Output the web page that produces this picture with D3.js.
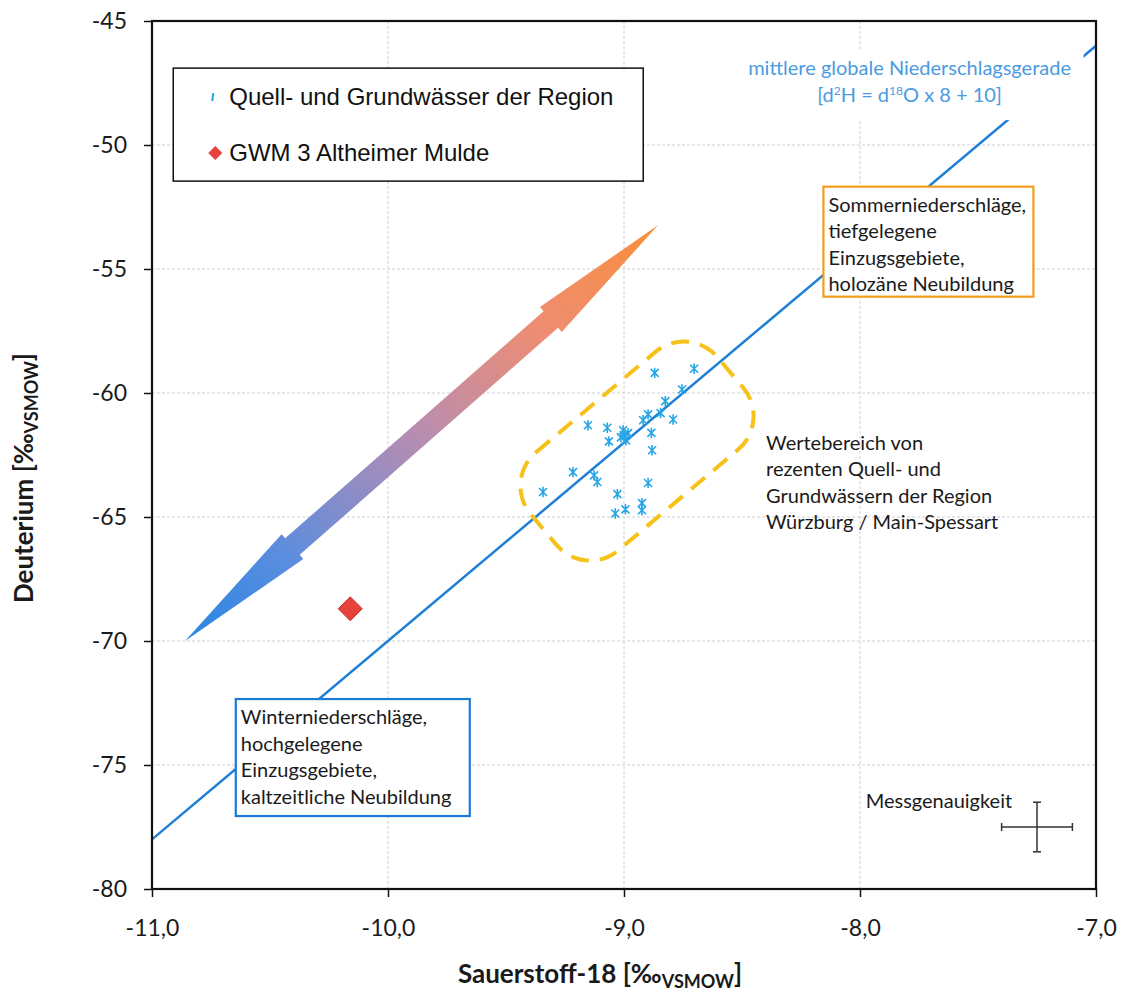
<!DOCTYPE html>
<html>
<head>
<meta charset="utf-8">
<script type="text/javascript" src="https://cdn.jsdelivr.net/npm/d3@7/dist/d3.min.js"></script>
<style>
	body { margin: 0; background: #fff; }
	svg { display: block; }
	.axis path { display: none; }
	.axis line { stroke: #111; stroke-width: 1.5; }
	.axis text { font-family: Lato, "Open Sans", sans-serif; font-size: 23px; fill: #1a1a1a; }
	.grid line { stroke: #cfcfd8; stroke-width: 1; stroke-dasharray: 3,2; }
	.note { font-family: Lato, "Open Sans", sans-serif; font-size: 20px; fill: #1a1a1a; }
	.title { font-family: Lato, sans-serif; font-size: 26px; font-weight: bold; fill: #1a1a1a; }
</style>
</head>
<body>
<div id="chart"></div>
<script type="text/javascript">
	// d18O / d2H of springs and groundwater of the region
	const regionO18 = [-8.870, -8.703, -8.754, -8.825, -8.845, -8.792, -8.898, -8.919, -8.884, -8.881,
		-9.004, -8.983, -8.992, -9.013, -9.000, -9.071, -9.153, -9.064, -9.216, -9.127,
		-9.113, -9.343, -8.898, -9.028, -8.994, -9.037, -8.924, -8.924];
	const regionH2 = [-59.19, -59.02, -59.86, -60.33, -60.81, -61.07, -60.86, -61.10, -61.61, -62.31,
		-61.50, -61.62, -61.91, -61.79, -61.70, -61.40, -61.30, -61.95, -63.19, -63.32,
		-63.59, -63.99, -63.63, -64.08, -64.69, -64.86, -64.44, -64.73];
	const gwmO18 = [-10.16];
	const gwmH2 = [-68.70];

	// global meteoric water line d2H = 8 * d18O + 10
	const mwlO18 = [-11, -7];
	const mwlH2 = [-78, -46];

	// trend arrow ends (winter -> summer)
	const arrowO18 = [-10.86, -8.855];
	const arrowH2 = [-70.0, -53.23];

	// measurement precision cross
	const precO18 = -7.25, precH2 = -77.5, precErrO18 = 0.15, precErrH2 = 1.0;

	const xTicks = [-11, -10, -9, -8, -7];
	const yTicks = [-80, -75, -70, -65, -60, -55, -50, -45];
	const legendLabels = ["Quell- und Grundwässer der Region", "GWM 3 Altheimer Mulde"];

	let margin = {top: 21, right: 31, bottom: 106, left: 152},
		width = 944,
		height = 868,
		svgWidth = width + margin.left + margin.right,
		svgHeight = height + margin.top + margin.bottom;

	let x = d3.scaleLinear().domain([-11, -7]).range([0, width]);
	let y = d3.scaleLinear().domain([-80, -45]).range([height, 0]);

	let svg = d3.select("#chart").append("svg")
		.attr("width", svgWidth)
		.attr("height", svgHeight);

	let defs = svg.append("defs");
	let plot = svg.append("g")
		.attr("transform", "translate(" + margin.left + "," + margin.top + ")");

	// gridlines
	plot.append("g").attr("class", "grid")
		.selectAll("line").data(xTicks.slice(1, -1)).enter().append("line")
		.attr("x1", d => x(d)).attr("x2", d => x(d))
		.attr("y1", 0).attr("y2", height);
	plot.append("g").attr("class", "grid")
		.selectAll("line").data(yTicks.slice(1, -1)).enter().append("line")
		.attr("x1", 0).attr("x2", width)
		.attr("y1", d => y(d)).attr("y2", d => y(d));

	// axes
	plot.append("g").attr("class", "axis")
		.attr("transform", "translate(0," + height + ")")
		.call(d3.axisBottom(x).tickValues(xTicks).tickSize(8).tickPadding(23)
			.tickFormat(d => d.toFixed(1).replace(".", ",")));
	plot.append("g").attr("class", "axis")
		.call(d3.axisLeft(y).tickValues(yTicks).tickSize(8).tickPadding(17)
			.tickFormat(d => String(d)));

	// meteoric water line
	let mwl = mwlO18.map((d, i) => ({x: d, y: mwlH2[i]}));
	plot.append("path")
		.attr("d", d3.line().x(d => x(d.x)).y(d => y(d.y))(mwl))
		.attr("fill", "none")
		.attr("stroke", "#1f7fd6")
		.attr("stroke-width", 2.5);

	// label of the water line (white backing hides the line)
	let mwlLabel = plot.append("g").attr("transform", "translate(" + x(-7.79) + "," + y(-47.18) + ")");
	mwlLabel.append("rect")
		.attr("x", -174).attr("y", -26).attr("width", 348).attr("height", 71)
		.attr("fill", "#fff");
	mwlLabel.append("text")
		.attr("text-anchor", "middle")
		.style("font-family", "Lato, sans-serif").style("font-size", "20px").style("fill", "#4a9be0")
		.text("mittlere globale Niederschlagsgerade");
	let eq = mwlLabel.append("text")
		.attr("text-anchor", "middle").attr("y", 27)
		.style("font-family", "Lato, sans-serif").style("font-size", "20px").style("fill", "#4a9be0");
	eq.append("tspan").text("[d");
	eq.append("tspan").attr("baseline-shift", "super").style("font-size", "12px").text("2");
	eq.append("tspan").text("H = d");
	eq.append("tspan").attr("baseline-shift", "super").style("font-size", "12px").text("18");
	eq.append("tspan").text("O x 8 + 10]");

	// boxed annotations
	function noteBox(x0, y0, w, h, color, lines) {
		let g = plot.append("g").attr("transform", "translate(" + x(x0) + "," + y(y0) + ")");
		g.append("rect")
			.attr("width", w).attr("height", h)
			.attr("fill", "#fff")
			.attr("stroke", color)
			.attr("stroke-width", 2.2);
		g.selectAll("text").data(lines).enter().append("text")
			.attr("class", "note")
			.attr("x", 5)
			.attr("y", (d, i) => 25 + i * 26.5)
			.text(d => d);
	}
	noteBox(-8.155, -51.68, 210, 110, "#f39c1e",
		["Sommerniederschläge,", "tiefgelegene", "Einzugsgebiete,", "holozäne Neubildung"]);
	noteBox(-10.645, -72.34, 234, 117, "#1a7ad4",
		["Winterniederschläge,", "hochgelegene", "Einzugsgebiete,", "kaltzeitliche Neubildung"]);

	// free text
	plot.append("g").selectAll("text")
		.data(["Wertebereich von", "rezenten Quell- und", "Grundwässern der Region", "Würzburg / Main-Spessart"])
		.enter().append("text")
		.attr("class", "note")
		.attr("x", x(-8.398))
		.attr("y", (d, i) => y(-62.30) + i * 26.3)
		.text(d => d);

	// gradient double arrow
	let p1 = [x(arrowO18[0]), y(arrowH2[0])],
		p2 = [x(arrowO18[1]), y(arrowH2[1])];
	let dx = p2[0] - p1[0], dy = p2[1] - p1[1], len = Math.sqrt(dx * dx + dy * dy);
	let ux = dx / len, uy = dy / len, nx = -uy, ny = ux;
	let headLen = 143, headW = 16.5, shaftW = 11;
	function pt(s, t) { return [p1[0] + ux * s + nx * t, p1[1] + uy * s + ny * t]; }
	let arrowPts = [
		pt(0, 0), pt(headLen, headW), pt(headLen, shaftW),
		pt(len - headLen, shaftW), pt(len - headLen, headW), pt(len, 0),
		pt(len - headLen, -headW), pt(len - headLen, -shaftW),
		pt(headLen, -shaftW), pt(headLen, -headW)
	];
	let grad = defs.append("linearGradient").attr("id", "arrowGrad")
		.attr("gradientUnits", "userSpaceOnUse")
		.attr("x1", p1[0]).attr("y1", p1[1])
		.attr("x2", p2[0]).attr("y2", p2[1]);
	[[0, "#2786e2"], [0.2, "#5a8ddf"], [0.5, "#b98db0"], [0.75, "#ee8d72"], [1, "#f98f3c"]].forEach(s => {
		grad.append("stop").attr("offset", s[0]).attr("stop-color", s[1]);
	});
	plot.append("polygon")
		.attr("points", arrowPts.map(p => p.join(",")).join(" "))
		.attr("fill", "url(#arrowGrad)");

	// value range (dashed rounded frame along the water line)
	let frameAngle = Math.atan2(y(-46) - y(-78), x(-7) - x(-11)) * 180 / Math.PI;
	plot.append("rect")
		.attr("x", -122).attr("y", -64).attr("width", 244).attr("height", 128)
		.attr("rx", 44).attr("ry", 44)
		.attr("transform", "translate(" + x(-8.945) + "," + y(-62.34) + ") rotate(" + frameAngle + ")")
		.attr("fill", "none")
		.attr("stroke", "#f6c21a")
		.attr("stroke-width", 4)
		.attr("stroke-dasharray", "18,11");

	// star markers
	function star(s) {
		return "M" + (-s) + "," + (-s) + "L" + s + "," + s +
			"M" + (-s) + "," + s + "L" + s + "," + (-s) +
			"M0," + (-s * 1.3) + "L0," + (s * 1.3);
	}
	plot.append("g").selectAll("path")
		.data(regionO18.map((d, i) => ({x: d, y: regionH2[i]})))
		.enter().append("path")
		.attr("transform", d => "translate(" + x(d.x) + "," + y(d.y) + ")")
		.attr("d", star(4))
		.attr("fill", "none")
		.attr("stroke", "#27a6e6")
		.attr("stroke-width", 1.6);

	// GWM 3
	plot.append("g").selectAll("path")
		.data(gwmO18.map((d, i) => ({x: d, y: gwmH2[i]})))
		.enter().append("path")
		.attr("transform", d => "translate(" + x(d.x) + "," + y(d.y) + ")")
		.attr("d", "M0,-12L12,0L0,12L-12,0Z")
		.attr("fill", "#e8413b")
		.attr("stroke", "#c9302a")
		.attr("stroke-width", 1);

	// measurement precision
	let prec = plot.append("g").attr("stroke", "#333").attr("stroke-width", 1.5);
	prec.append("line")
		.attr("x1", x(precO18 - precErrO18)).attr("x2", x(precO18 + precErrO18))
		.attr("y1", y(precH2)).attr("y2", y(precH2));
	prec.append("line")
		.attr("x1", x(precO18)).attr("x2", x(precO18))
		.attr("y1", y(precH2 - precErrH2)).attr("y2", y(precH2 + precErrH2));
	[precO18 - precErrO18, precO18 + precErrO18].forEach(v => {
		prec.append("line").attr("x1", x(v)).attr("x2", x(v))
			.attr("y1", y(precH2) - 4).attr("y2", y(precH2) + 4);
	});
	[precH2 - precErrH2, precH2 + precErrH2].forEach(v => {
		prec.append("line").attr("x1", x(precO18) - 4).attr("x2", x(precO18) + 4)
			.attr("y1", y(v)).attr("y2", y(v));
	});
	plot.append("text").attr("class", "note")
		.attr("x", x(-7.976)).attr("y", y(-76.75))
		.text("Messgenauigkeit");

	// plot frame
	plot.append("rect")
		.attr("width", width).attr("height", height)
		.attr("fill", "none")
		.attr("stroke", "#111")
		.attr("stroke-width", 2.2);

	// legend
	let legend = plot.append("g").attr("transform", "translate(" + x(-10.91) + "," + y(-46.9) + ")");
	legend.append("rect")
		.attr("width", 470).attr("height", 113)
		.attr("fill", "#fff")
		.attr("stroke", "#111")
		.attr("stroke-width", 1.5);
	legend.append("path")
		.attr("transform", "translate(40,29)")
		.attr("d", "M0,-4L-1,4")
		.attr("stroke", "#27a6e6").attr("stroke-width", 2);
	legend.append("path")
		.attr("transform", "translate(42,85)")
		.attr("d", "M0,-7L7,0L0,7L-7,0Z")
		.attr("fill", "#e8413b");
	legend.selectAll("text").data(legendLabels).enter().append("text")
		.attr("x", 56)
		.attr("y", (d, i) => 37 + i * 56)
		.style("font-family", "'Liberation Sans', Arial, sans-serif")
		.style("font-size", "24px")
		.style("fill", "#111")
		.text(d => d);

	// axis titles
	let xTitle = svg.append("text")
		.attr("class", "title")
		.attr("x", 600).attr("y", 983)
		.attr("text-anchor", "middle");
	xTitle.append("tspan").text("Sauerstoff-18 [‰");
	xTitle.append("tspan").attr("dy", 5).style("font-size", "18px").text("VSMOW");
	xTitle.append("tspan").attr("dy", -5).text("]");

	let yTitle = svg.append("text")
		.attr("class", "title")
		.attr("transform", "translate(33,478) rotate(-90)")
		.attr("text-anchor", "middle");
	yTitle.append("tspan").text("Deuterium [‰");
	yTitle.append("tspan").attr("dy", 5).style("font-size", "18px").text("VSMOW");
	yTitle.append("tspan").attr("dy", -5).text("]");
</script>
</body>
</html>
